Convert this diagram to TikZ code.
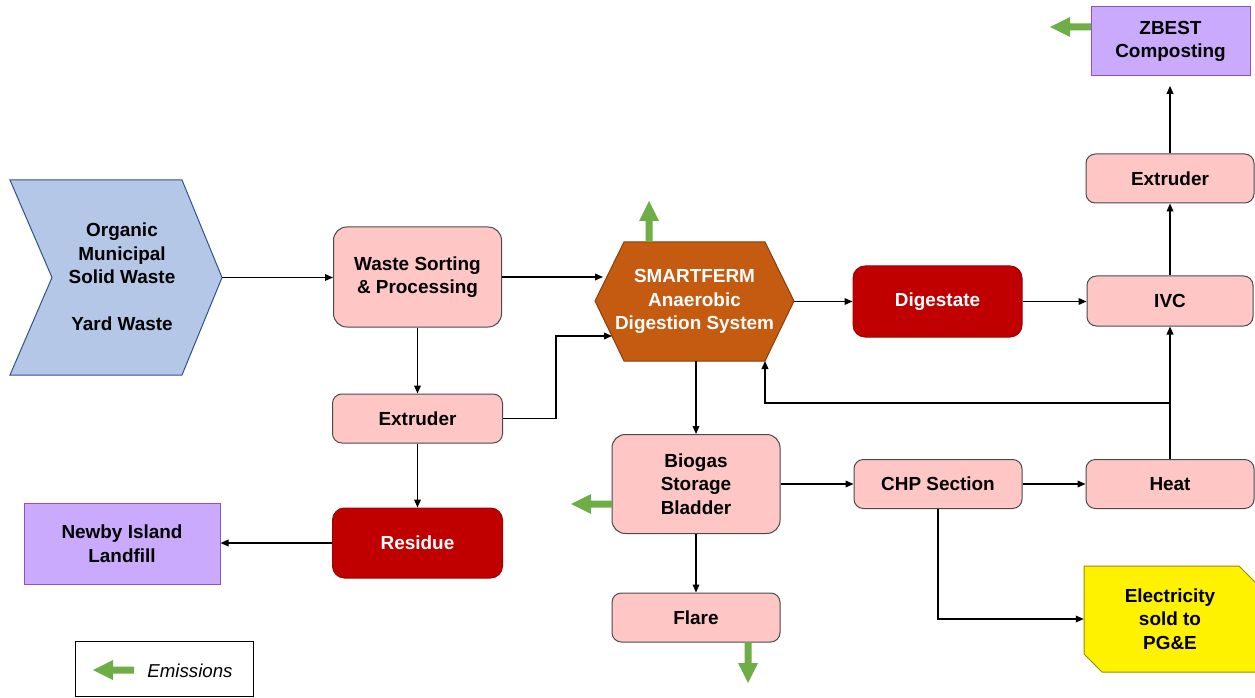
\documentclass[tikz,border=0pt]{standalone}
\usepackage{fontspec}
\setmainfont{Liberation Sans}
\usetikzlibrary{arrows.meta,calc}
\definecolor{pinkf}{HTML}{FFC6C6}
\definecolor{boxgray}{HTML}{4A4A4A}
\definecolor{dred}{HTML}{C00000}
\definecolor{dredb}{HTML}{9E0000}
\definecolor{purpf}{HTML}{CAAAFD}
\definecolor{purpb}{HTML}{8E50C8}
\definecolor{bluef}{HTML}{B4C7E7}
\definecolor{blueb}{HTML}{2F528F}
\definecolor{orangef}{HTML}{C55A11}
\definecolor{orangeb}{HTML}{8A3E0A}
\definecolor{yellb}{HTML}{9A8A00}
\definecolor{emgreen}{HTML}{6FAD47}
\begin{document}
\begin{tikzpicture}[x=0.75pt,y=-0.75pt,
  font=\fontsize{14.2}{17.6}\selectfont\bfseries,
  box/.style={draw=boxgray, line width=0.75pt, fill=pinkf, rounded corners=7pt,
    align=center, inner sep=0pt, minimum width=126pt, minimum height=36.75pt},
  redbox/.style={box, fill=dred, draw=dredb, text=white},
  purpbox/.style={draw=purpb, line width=0.75pt, fill=purpf, align=center,
    inner sep=0pt},
  conn/.style={draw, line width=1pt, -{Triangle[length=6pt,width=5pt]}},
  emis/.pic={\fill[emgreen] (0,-3.5) -- (21,-3.5) -- (21,-10) -- (41,0) -- (21,10) -- (21,3.5) -- (0,3.5) -- cycle;}
]
\useasboundingbox (0,0) rectangle (1255,698);

% input chevron
\filldraw[fill=bluef, draw=blueb, line width=0.75pt]
  (10,180) -- (182,180) -- (222,277.5) -- (182,375) -- (10,375) -- (52,277.5) -- cycle;
\node[inner sep=0pt, minimum width=159pt, minimum height=146.25pt] (chev) at (116,277.5) {};
\node[align=center, inner sep=0pt] (chevtxt) at (122,277) {Organic\\Municipal\\Solid Waste\\[17.6pt]Yard Waste};

% SMARTFERM hexagon
\filldraw[fill=orangef, draw=orangeb, line width=0.75pt]
  (595,301) -- (624,242) -- (765,242) -- (794,301) -- (765,361) -- (624,361) -- cycle;
\node[inner sep=0pt, minimum width=149.25pt, minimum height=89.25pt, text=white, align=center]
  (hex) at (694.5,301.5) {SMARTFERM\\Anaerobic\\Digestion System};
\coordinate (hin1) at (603,277);
\coordinate (hin2) at (612,336);
\coordinate (j1) at (556,336);
\coordinate (hbr) at (765,361);

% boxes
\node[box, minimum height=75pt, rounded corners=10pt] (sort) at (417.5,277) {Waste Sorting\\\& Processing};
\node[box, minimum width=127.5pt] (ext1) at (417.5,418.5) {Extruder};
\node[redbox, minimum width=127.5pt, minimum height=52.5pt, rounded corners=9pt] (res) at (417.5,543) {Residue};
\node[purpbox, minimum width=147pt, minimum height=60.75pt] (newby) at (122,543.5) {Newby Island\\Landfill};
\node[box, minimum height=74.25pt, rounded corners=10pt] (bio) at (696,484) {Biogas\\Storage\\Bladder};
\node[box] (flare) at (696,617.5) {Flare};
\node[redbox, minimum width=126.75pt, minimum height=53.25pt, rounded corners=9pt] (dig) at (937.5,301.5) {Digestate};
\node[box, minimum width=124.5pt, minimum height=37.5pt] (ivc) at (1170,301) {IVC};
\node[box] (ext2) at (1170,178.5) {Extruder};
\node[purpbox, minimum width=119.25pt, minimum height=51.75pt] (zbest) at (1170.5,41.5) {ZBEST\\Composting};
\node[box] (chp) at (938,484) {CHP Section};
\node[box] (heat) at (1170,484) {Heat};

% electricity
\filldraw[fill=yellow, draw=yellb, line width=0.75pt]
  (1084,566) -- (1239,566) -- (1262,589) -- (1262,672) -- (1102,672) -- (1084,654) -- cycle;
\node[inner sep=0pt, minimum width=129pt, minimum height=79.5pt, align=center] (elec) at (1170,619) {Electricity\\sold to\\PG\&E};

% connectors
\draw[conn] (chev.east) -- (chev.east -| sort.west);
\draw[conn] (sort.east) -- (sort.east -| hin1);
\draw[conn] (sort.south) -- (ext1.north);
\draw[conn] (ext1.east) -| (j1) -- (hin2);
\draw[conn] (ext1.south) -- (res.north);
\draw[conn] (res.west) -- (res.west -| newby.east);
\draw[conn] (bio.north |- hex.south) -- (bio.north);
\draw[conn] (hex.east) -- (dig.west);
\draw[conn] (dig.east) -- (dig.east -| ivc.west);
\draw[conn] (ivc.north) -- (ext2.south);
\draw[conn, shorten >=7pt] (ext2.north) -- (zbest.south -| ext2.north);
\draw[conn] (heat.north) -- (ivc.south);
\coordinate (fb) at (1170,403);
\draw[conn] (fb) -| (hbr);
\draw[conn] (bio.east) -- (chp.west);
\draw[conn] (chp.east) -- (heat.west);
\draw[conn] (chp.south) |- (elec.west);
\draw[conn] (bio.south) -- (flare.north);

% emissions
\pic[rotate=90] at (649,242) {emis};
\pic[rotate=180] at (612,504) {emis};
\pic[rotate=-90] at (748,642) {emis};
\pic[rotate=180] at (1091,27) {emis};

% legend
\node[draw, line width=0.75pt, inner sep=0pt, minimum width=133.5pt, minimum height=41.25pt] (legend) at (164,668.5) {};
\pic[rotate=180] at (134,670) {emis};
\node[font=\fontsize{14}{17}\selectfont\mdseries\itshape, inner sep=0pt] (legtxt) at (190,671) {Emissions};
\end{tikzpicture}
\end{document}
